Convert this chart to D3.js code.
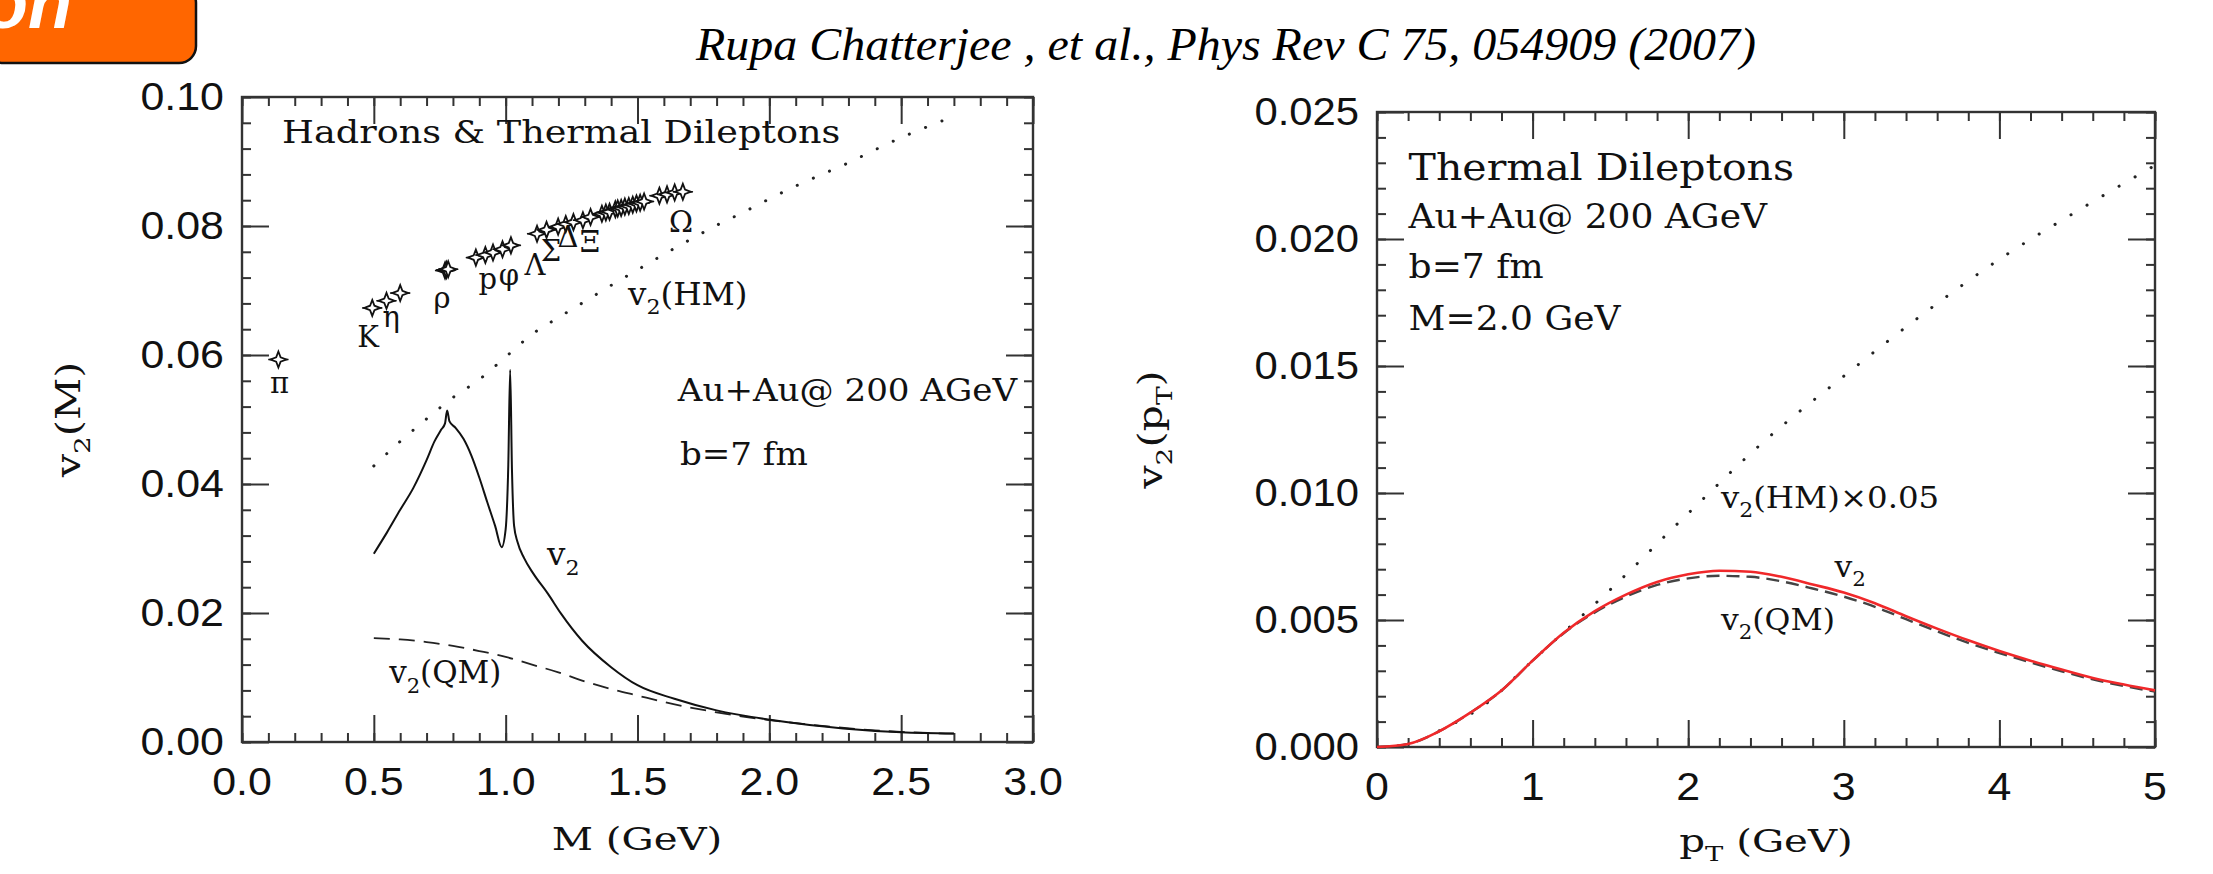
<!DOCTYPE html>
<html>
<head>
<meta charset="utf-8">
<script src="https://cdn.jsdelivr.net/npm/d3@7"></script>
<style>
  html, body { margin: 0; padding: 0; background: #fff; }
  svg { display: block; }
</style>
</head>
<body>
<div id="chart"></div>
<script>
// ---------- left panel : v2 vs M ----------
var massTicks = [0, 0.5, 1.0, 1.5, 2.0, 2.5, 3.0];
var massTickLabels = ["0.0", "0.5", "1.0", "1.5", "2.0", "2.5", "3.0"];
var v2MassTicks = [0, 0.02, 0.04, 0.06, 0.08, 0.10];
var v2MassTickLabels = ["0.00", "0.02", "0.04", "0.06", "0.08", "0.10"];

// total thermal dilepton v2 (solid)
var v2Mass = [0.50, 0.55, 0.60, 0.65, 0.70, 0.73, 0.755, 0.770, 0.778, 0.787, 0.81, 0.84, 0.87, 0.90, 0.93, 0.96, 0.985, 1.000, 1.010, 1.017, 1.024, 1.032, 1.045, 1.07, 1.105, 1.16, 1.21, 1.29, 1.40, 1.50, 1.64, 1.80, 2.01, 2.28, 2.50, 2.70];
var v2Total = [0.0292, 0.0325, 0.0360, 0.0394, 0.0437, 0.0466, 0.0484, 0.0494, 0.0514, 0.0497, 0.0487, 0.0470, 0.0444, 0.0410, 0.0372, 0.0335, 0.0302, 0.0330, 0.0430, 0.0577, 0.0420, 0.0335, 0.0310, 0.0285, 0.0261, 0.0230, 0.0199, 0.0157, 0.0116, 0.0088, 0.0067, 0.0049, 0.0034, 0.0021, 0.0015, 0.0013];

// quark matter contribution (dashed)
var qmMass = [0.50, 0.60, 0.70, 0.80, 0.90, 1.00, 1.10, 1.20, 1.30, 1.40, 1.50, 1.60, 1.80, 2.00, 2.20, 2.40, 2.60, 2.70];
var v2QM = [0.0161, 0.0159, 0.0155, 0.0149, 0.0141, 0.0132, 0.0120, 0.0108, 0.0094, 0.0082, 0.0072, 0.0062, 0.0046, 0.0034, 0.0025, 0.0018, 0.0014, 0.0013];

// hadronic matter contribution (dotted)
var hmMass = [0.50, 0.60, 0.70, 0.80, 0.90, 1.00, 1.10, 1.20, 1.30, 1.40, 1.50, 1.60, 1.70, 1.80, 1.90, 2.00, 2.10, 2.20, 2.30, 2.40, 2.50, 2.60, 2.70];
var v2HM = [0.0428, 0.0466, 0.0501, 0.0534, 0.0562, 0.0597, 0.0632, 0.0658, 0.0683, 0.0708, 0.0732, 0.0756, 0.0779, 0.0801, 0.0821, 0.0842, 0.0862, 0.0880, 0.0898, 0.0918, 0.0937, 0.0954, 0.0970];

// hadron v2 points
var hadronMass = [0.138, 0.494, 0.548, 0.600, 0.770, 0.775, 0.782, 0.887, 0.923, 0.952, 0.988, 1.020, 1.119, 1.155, 1.199, 1.228, 1.257, 1.293, 1.322, 1.365, 1.380, 1.394, 1.416, 1.425, 1.438, 1.452, 1.467, 1.482, 1.496, 1.510, 1.525, 1.583, 1.612, 1.641, 1.672];
var hadronV2 = [0.0593, 0.0673, 0.0684, 0.0696, 0.0731, 0.0732, 0.0733, 0.0751, 0.0755, 0.0759, 0.0764, 0.0770, 0.0788, 0.0794, 0.0799, 0.0803, 0.0806, 0.0809, 0.0814, 0.0819, 0.0821, 0.0822, 0.0826, 0.0827, 0.0828, 0.0830, 0.0831, 0.0833, 0.0835, 0.0836, 0.0838, 0.0847, 0.0849, 0.0852, 0.0853];

var hadronNames = ["π", "K", "η", "ρ", "p", "φ", "Λ", "Σ", "Δ", "Ξ", "Ω"];
var hadronNameMass = [0.142, 0.478, 0.566, 0.759, 0.932, 1.012, 1.111, 1.172, 1.236, 1.320, 1.665];
var hadronNameV2 = [0.0541, 0.0613, 0.0643, 0.0673, 0.0702, 0.0709, 0.0724, 0.0745, 0.0768, 0.0760, 0.0791];

// ---------- right panel : v2 vs pT ----------
var ptTicks = [0, 1, 2, 3, 4, 5];
var ptTickLabels = ["0", "1", "2", "3", "4", "5"];
var v2PtTicks = [0, 0.005, 0.010, 0.015, 0.020, 0.025];
var v2PtTickLabels = ["0.000", "0.005", "0.010", "0.015", "0.020", "0.025"];

var ptGrid = [0, 0.2, 0.4, 0.6, 0.8, 1.0, 1.2, 1.4, 1.6, 1.8, 2.0, 2.2, 2.4, 2.6, 2.8, 3.0, 3.2, 3.4, 3.6, 3.8, 4.0, 4.2, 4.4, 4.6, 4.8, 5.0];
var v2PtTotal = [0, 0.00012, 0.00062, 0.00135, 0.00222, 0.00340, 0.00450, 0.00535, 0.00600, 0.00650, 0.00680, 0.00694, 0.00690, 0.00670, 0.00640, 0.00608, 0.00566, 0.00515, 0.00466, 0.00420, 0.00378, 0.00340, 0.00305, 0.00272, 0.00246, 0.00223];
var v2PtQM = [0, 0.00012, 0.00062, 0.00135, 0.00222, 0.00340, 0.00448, 0.00530, 0.00592, 0.00638, 0.00664, 0.00674, 0.00670, 0.00652, 0.00624, 0.00592, 0.00552, 0.00503, 0.00455, 0.00410, 0.00370, 0.00333, 0.00298, 0.00266, 0.00240, 0.00218];

var hmPt = [0.4, 0.7, 1.0, 1.5, 2.0, 2.5, 3.0, 3.5, 4.0, 4.5, 5.0];
var v2PtHM = [0.00064, 0.0017, 0.0034, 0.0062, 0.0092, 0.0121, 0.0146, 0.0170, 0.0192, 0.0211, 0.0229];

var SERIF = "'DejaVu Serif', 'Liberation Serif', serif";
var SANS = "'Liberation Sans', Arial, sans-serif";

var svg = d3.select("#chart").append("svg")
  .attr("width", 2213)
  .attr("height", 874)
  .style("background", "#fff");

// text with optional subscripts, stretched a little sideways like the scanned figure
function addLabel(g, x, y, parts, o) {
  var size = o.size;
  var tf = "translate(" + x + "," + y + ")";
  if (o.rotate) tf += " rotate(" + o.rotate + ")";
  tf += " scale(" + (o.sx || 1) + ",1)";
  var t = g.append("text")
    .attr("transform", tf)
    .attr("font-family", o.family || SERIF)
    .attr("font-size", size)
    .attr("font-style", o.italic ? "italic" : null)
    .attr("font-weight", o.bold ? "bold" : null)
    .attr("text-anchor", o.anchor || "start")
    .attr("fill", o.color || "#111");
  var shift = 0;
  parts.forEach(function (p) {
    var s = typeof p === "string" ? { t: p } : p;
    var want = s.sub ? size * 0.3 : 0;
    t.append("tspan")
      .attr("dy", want - shift)
      .attr("font-size", s.sub ? size * 0.68 : size)
      .text(s.t);
    shift = want;
  });
  return t;
}

// four-point star used for hadron markers
function starPath(r, a) {
  return "M0," + (-r) + "L" + a + "," + (-a) + "L" + r + ",0L" + a + "," + a +
    "L0," + r + "L" + (-a) + "," + a + "L" + (-r) + ",0L" + (-a) + "," + (-a) + "Z";
}

function frameAndTicks(g, x, y, xMajor, xMinor, yMajor, yMinor) {
  var x0 = x.range()[0], x1 = x.range()[1];
  var yB = y.range()[0], yT = y.range()[1];
  var axes = [
    [d3.axisBottom(x), "translate(0," + yB + ")", xMajor, xMinor],
    [d3.axisTop(x), "translate(0," + yT + ")", xMajor, xMinor],
    [d3.axisLeft(y), "translate(" + x0 + ",0)", yMajor, yMinor],
    [d3.axisRight(y), "translate(" + x1 + ",0)", yMajor, yMinor]
  ];
  axes.forEach(function (a) {
    [[a[2], 27], [a[3], 9]].forEach(function (set) {
      var ax = g.append("g")
        .attr("transform", a[1])
        .call(a[0].tickValues(set[0]).tickSize(-set[1]).tickFormat(""));
      ax.select(".domain").remove();
      ax.selectAll("line").attr("stroke", "#333").attr("stroke-width", 2);
    });
  });
  g.append("rect")
    .attr("x", x0).attr("y", yT)
    .attr("width", x1 - x0).attr("height", yB - yT)
    .attr("fill", "none").attr("stroke", "#333").attr("stroke-width", 2.4);
}

// ---------- top banner ----------
svg.append("rect")
  .attr("x", -14).attr("y", -14)
  .attr("width", 210).attr("height", 77)
  .attr("rx", 17)
  .attr("fill", "#ff6600")
  .attr("stroke", "#111")
  .attr("stroke-width", 2.5);
addLabel(svg, 72, 28, ["on"], { size: 72, sx: 1, anchor: "end", italic: true, bold: true, family: SANS, color: "#fff" });

svg.append("text")
  .attr("x", 696).attr("y", 60)
  .attr("font-family", "'Liberation Serif', 'Times New Roman', serif")
  .attr("font-style", "italic")
  .attr("font-size", 47)
  .attr("textLength", 1060)
  .attr("lengthAdjust", "spacingAndGlyphs")
  .attr("fill", "#000")
  .text("Rupa Chatterjee , et al., Phys Rev C 75, 054909 (2007)");

// ---------- left panel ----------
var gL = svg.append("g");
var xM = d3.scaleLinear().domain([0, 3]).range([242, 1033]);
var yM = d3.scaleLinear().domain([0, 0.1]).range([742, 97]);

frameAndTicks(gL, xM, yM, massTicks, d3.range(0, 3.0001, 0.1),
  v2MassTicks, d3.range(0, 0.10001, 0.004));

massTicks.forEach(function (d, i) {
  addLabel(gL, xM(d), 795, [massTickLabels[i]], { size: 38, sx: 1.13, anchor: "middle", family: SANS });
});
v2MassTicks.forEach(function (d, i) {
  addLabel(gL, 224, yM(d) + 13, [v2MassTickLabels[i]], { size: 38, sx: 1.13, anchor: "end", family: SANS });
});

addLabel(gL, 637, 850, ["M (GeV)"], { size: 31, sx: 1.3, anchor: "middle" });
addLabel(gL, 80, yM(0.05), ["v", { t: "2", sub: true }, "(M)"], { size: 33, sx: 1.25, anchor: "middle", rotate: -90 });

var lineM = function (xs, ys) {
  return d3.line()
    .x(function (d, i) { return xM(xs[i]); })
    .y(function (d, i) { return yM(ys[i]); })
    .curve(d3.curveMonotoneX)(xs);
};

gL.append("path").attr("d", lineM(hmMass, v2HM))
  .attr("fill", "none").attr("stroke", "#222").attr("stroke-width", 3)
  .attr("stroke-linecap", "round").attr("stroke-dasharray", "0.1,17.5");
gL.append("path").attr("d", lineM(qmMass, v2QM))
  .attr("fill", "none").attr("stroke", "#222").attr("stroke-width", 1.8)
  .attr("stroke-dasharray", "16,9");
gL.append("path").attr("d", lineM(v2Mass, v2Total))
  .attr("fill", "none").attr("stroke", "#111").attr("stroke-width", 2);

// hadron markers
gL.append("g").selectAll("g.had")
  .data(hadronMass)
  .enter().append("g")
  .attr("transform", function (d, i) { return "translate(" + xM(d) + "," + yM(hadronV2[i]) + ")"; })
  .each(function () {
    var m = d3.select(this);
    m.append("line").attr("x1", -10).attr("x2", 10).attr("y1", 0).attr("y2", 0)
      .attr("stroke", "#111").attr("stroke-width", 1.6);
    m.append("path").attr("d", starPath(8, 2.2))
      .attr("fill", "#fff").attr("stroke", "#111").attr("stroke-width", 1.8);
  });

hadronNames.forEach(function (n, i) {
  addLabel(gL, xM(hadronNameMass[i]), yM(hadronNameV2[i]), [n], { size: 29, sx: 1.0, anchor: "middle" });
});

addLabel(gL, xM(0.152), yM(0.0928), ["Hadrons & Thermal Dileptons"], { size: 31, sx: 1.18 });
addLabel(gL, xM(1.653), yM(0.0528), ["Au+Au@ 200 AGeV"], { size: 31, sx: 1.1 });
addLabel(gL, xM(1.661), yM(0.0429), ["b=7 fm"], { size: 31, sx: 1.1 });
addLabel(gL, xM(1.464), yM(0.0678), ["v", { t: "2", sub: true }, "(HM)"], { size: 31, sx: 1.05 });
addLabel(gL, xM(1.157), yM(0.0274), ["v", { t: "2", sub: true }], { size: 31, sx: 1.05 });
addLabel(gL, xM(0.558), yM(0.0091), ["v", { t: "2", sub: true }, "(QM)"], { size: 31, sx: 1.0 });

// ---------- right panel ----------
var gR = svg.append("g");
var xP = d3.scaleLinear().domain([0, 5]).range([1377, 2155]);
var yP = d3.scaleLinear().domain([0, 0.025]).range([747, 112]);

frameAndTicks(gR, xP, yP, ptTicks, d3.range(0, 5.0001, 0.2),
  v2PtTicks, d3.range(0, 0.02501, 0.001));

ptTicks.forEach(function (d, i) {
  addLabel(gR, xP(d), 800, [ptTickLabels[i]], { size: 38, sx: 1.13, anchor: "middle", family: SANS });
});
v2PtTicks.forEach(function (d, i) {
  addLabel(gR, 1359, yP(d) + 13, [v2PtTickLabels[i]], { size: 38, sx: 1.1, anchor: "end", family: SANS });
});

addLabel(gR, 1766, 852, ["p", { t: "T", sub: true }, " (GeV)"], { size: 31, sx: 1.3, anchor: "middle" });
addLabel(gR, 1162, yP(0.0125), ["v", { t: "2", sub: true }, "(p", { t: "T", sub: true }, ")"], { size: 33, sx: 1.25, anchor: "middle", rotate: -90 });

var lineP = function (xs, ys) {
  return d3.line()
    .x(function (d, i) { return xP(xs[i]); })
    .y(function (d, i) { return yP(ys[i]); })
    .curve(d3.curveMonotoneX)(xs);
};

gR.append("path").attr("d", lineP(hmPt, v2PtHM))
  .attr("fill", "none").attr("stroke", "#222").attr("stroke-width", 3)
  .attr("stroke-linecap", "round").attr("stroke-dasharray", "0.1,18.5");
gR.append("path").attr("d", lineP(ptGrid, v2PtQM))
  .attr("fill", "none").attr("stroke", "#444").attr("stroke-width", 2.4)
  .attr("stroke-dasharray", "13,7");
gR.append("path").attr("d", lineP(ptGrid, v2PtTotal))
  .attr("fill", "none").attr("stroke", "#f0282a").attr("stroke-width", 2.6);

addLabel(gR, xP(0.203), yP(0.02232), ["Thermal Dileptons"], { size: 38, sx: 1.08 });
addLabel(gR, xP(0.203), yP(0.02042), ["Au+Au@ 200 AGeV"], { size: 34, sx: 1.06 });
addLabel(gR, xP(0.203), yP(0.01845), ["b=7 fm"], { size: 34, sx: 1.06 });
addLabel(gR, xP(0.203), yP(0.01642), ["M=2.0 GeV"], { size: 34, sx: 1.06 });
addLabel(gR, xP(2.21), yP(0.0094), ["v", { t: "2", sub: true }, "(HM)×0.05"], { size: 30, sx: 1.08 });
addLabel(gR, xP(2.94), yP(0.0067), ["v", { t: "2", sub: true }], { size: 30, sx: 1.05 });
addLabel(gR, xP(2.21), yP(0.0046), ["v", { t: "2", sub: true }, "(QM)"], { size: 30, sx: 1.05 });
</script>
</body>
</html>
